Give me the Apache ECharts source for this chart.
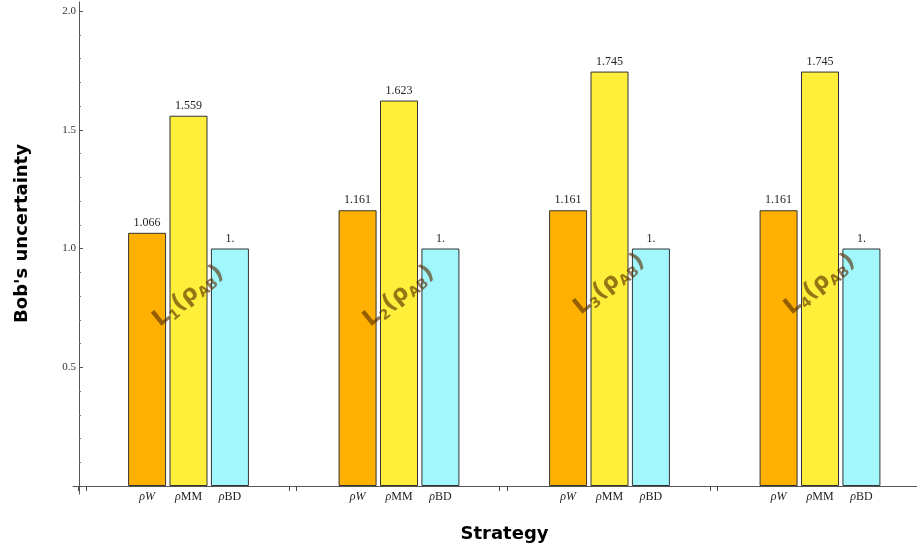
<!DOCTYPE html>
<html>
<head>
<meta charset="utf-8">
<script src="https://cdn.jsdelivr.net/npm/echarts@6/dist/echarts.min.js"></script>
<style>html,body{margin:0;padding:0;background:#fff}#c{width:917px;height:549px}</style>
</head>
<body>
<div id="c"></div>
<script>
// ---- data ----
const strategies = ['L1', 'L2', 'L3', 'L4'];
const rhoW  = [1.066, 1.161, 1.161, 1.161];
const rhoMM = [1.559, 1.623, 1.745, 1.745];
const rhoBD = [1, 1, 1, 1];
const seriesNames = ['ρW', 'ρMM', 'ρBD'];
const lLabelHeights = [0.80, 0.80, 0.85, 0.85];
const yTicks = [0, 0.5, 1.0, 1.5, 2.0];

const colors = ['#FFB000', '#FFEF3A', '#A1F7FC'];
const serif = 'Liberation Serif';
const sans = 'DejaVu Sans';
const lColor = 'rgba(85,45,0,0.78)';

const catRich = {
  g: { fontFamily: serif, fontSize: 12, fontStyle: 'italic', color: '#222' },
  n: { fontFamily: serif, fontSize: 12, color: '#222' }
};
const catFormat = ['{g|ρ}{g|W}', '{g|ρ}{n|MM}', '{g|ρ}{n|BD}'];

function fmtVal(v) { return v === 1 ? '1.' : v.toFixed(3); }

const allVals = [rhoW, rhoMM, rhoBD];
const series = [];
allVals.forEach((vals, i) => {
  // zero-height carrier for the category label under each bar
  series.push({
    type: 'bar', xAxisIndex: 0, yAxisIndex: 0, stack: 's' + i,
    barWidth: 38, barGap: '9%',
    data: vals.map(() => 0),
    itemStyle: { color: 'rgba(0,0,0,0)', borderWidth: 0 },
    label: { show: true, position: 'bottom', distance: 5, formatter: catFormat[i], rich: catRich },
    silent: true, z: 3
  });
  series.push({
    type: 'bar', name: seriesNames[i], xAxisIndex: 0, yAxisIndex: 0, stack: 's' + i,
    barWidth: 38, barGap: '9%',
    data: vals,
    itemStyle: { color: colors[i], borderColor: '#333', borderWidth: 1 },
    label: {
      show: true, position: 'top', distance: 4,
      fontFamily: serif, fontSize: 12, color: '#222',
      formatter: p => fmtVal(p.value)
    },
    z: 2
  });
});

series.push({
  type: 'scatter', xAxisIndex: 0, yAxisIndex: 0,
  symbolSize: 0,
  data: strategies.map((s, i) => [i, lLabelHeights[i]]),
  label: {
    show: true, position: 'inside', rotate: 39,
    formatter: p => '{m|L}{s|' + strategies[p.dataIndex].slice(1) + '}{m|(}{m|ρ}{s|AB}{m|)}',
    rich: {
      m: { fontFamily: sans, fontWeight: 'bold', fontSize: 23, lineHeight: 27, color: lColor },
      s: { fontFamily: sans, fontWeight: 'bold', fontSize: 14, lineHeight: 14, verticalAlign: 'bottom', color: lColor }
    }
  },
  z: 10
});

const TOP = 11, H = 475;
const hiddenX = gi => ({ gridIndex: gi, type: 'value', show: false, min: 0, max: 1 });
const hiddenY = gi => ({ gridIndex: gi, type: 'value', show: false, min: 0, max: 2 });

const option = {
  animation: false,
  backgroundColor: '#fff',
  grid: [
    { left: 188.5, top: TOP, height: H, width: 631.5 },   // 0 bars (category points = group centres)
    { left: 79, top: TOP, height: H, width: 100 },        // 1 visible y axis
    { left: 78.5, top: TOP, height: H, width: 631.5 },    // 2 group ticks A
    { left: 86, top: TOP, height: H, width: 631.5 },      // 3 group ticks B
    { left: 73, top: TOP, height: H, width: 844 },        // 4 x axis line
    { left: 79, top: 2, height: 492, width: 100 },        // 5 y axis line
    { left: 79, top: 0, height: 467, width: 100 },        // 6 y axis name
    { left: 100, top: TOP, height: H, width: 809 }        // 7 x axis name
  ],
  xAxis: [
    { gridIndex: 0, type: 'category', boundaryGap: false, data: strategies,
      axisLine: { show: false }, axisTick: { show: false }, axisLabel: { show: false } },
    hiddenX(1),
    { gridIndex: 2, type: 'value', min: 0, max: 3, interval: 1, axisLine: { show: false }, axisLabel: { show: false },
      splitLine: { show: false }, axisTick: { show: true, length: 5, lineStyle: { color: '#444' } } },
    { gridIndex: 3, type: 'value', min: 0, max: 3, interval: 1, axisLine: { show: false }, axisLabel: { show: false },
      splitLine: { show: false }, axisTick: { show: true, length: 5, lineStyle: { color: '#444' } } },
    { gridIndex: 4, type: 'value', min: 0, max: 1, axisLine: { show: true, lineStyle: { color: '#555' } },
      axisTick: { show: false }, axisLabel: { show: false }, splitLine: { show: false } },
    hiddenX(5),
    hiddenX(6),
    { gridIndex: 7, type: 'value', min: 0, max: 1, axisLine: { show: false }, axisTick: { show: false },
      axisLabel: { show: false }, splitLine: { show: false },
      name: 'Strategy', nameLocation: 'middle', nameGap: 39,
      nameTextStyle: { fontFamily: sans, fontWeight: 'bold', fontSize: 18, color: '#000' } }
  ],
  yAxis: [
    hiddenY(0),
    { gridIndex: 1, type: 'value', min: 0, max: 2, interval: 0.5,
      axisLine: { show: false },
      axisTick: { show: true, inside: true, length: 4, lineStyle: { color: '#555' } },
      minorTick: { show: true, splitNumber: 5, length: 2, lineStyle: { color: '#777' } },
      splitLine: { show: false },
      axisLabel: { margin: 3, fontFamily: serif, fontSize: 11, color: '#333',
        formatter: v => (v === yTicks[0] ? '' : v.toFixed(1)) } },
    hiddenY(2),
    hiddenY(3),
    hiddenY(4),
    { gridIndex: 5, type: 'value', min: 0, max: 1,
      axisLine: { show: true, lineStyle: { color: '#555' } }, axisTick: { show: false },
      axisLabel: { show: false }, splitLine: { show: false } },
    { gridIndex: 6, type: 'value', min: 0, max: 1,
      axisLine: { show: false }, axisTick: { show: false }, axisLabel: { show: false }, splitLine: { show: false },
      name: "Bob's uncertainty", nameLocation: 'middle', nameGap: 48, nameRotate: 90,
      nameTextStyle: { fontFamily: sans, fontWeight: 'bold', fontSize: 18, color: '#000' } },
    hiddenY(7)
  ],
  series: series
};

const chart = echarts.init(document.getElementById('c'), null, { renderer: 'canvas' });
chart.setOption(option);
</script>
</body>
</html>
